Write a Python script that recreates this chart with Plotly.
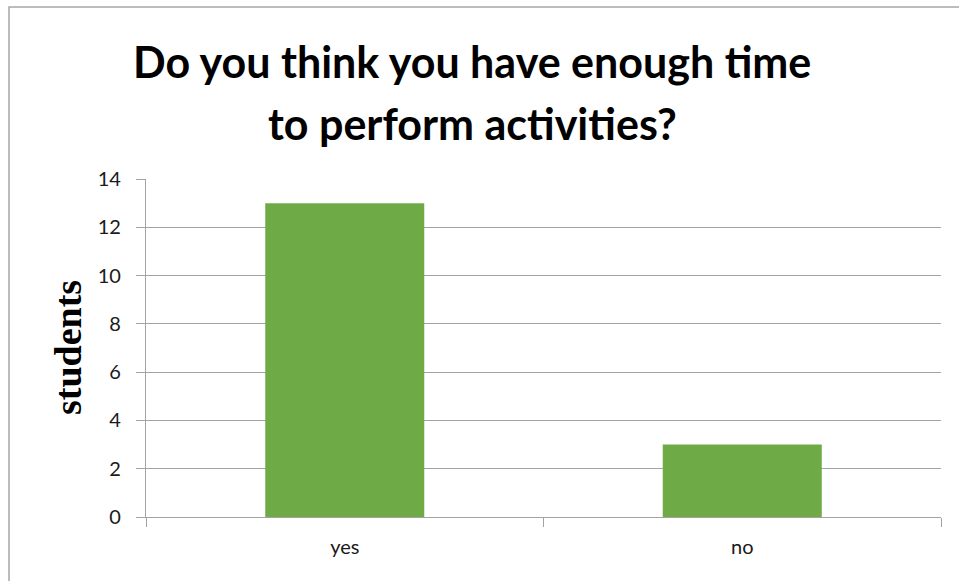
import plotly.graph_objects as go

categories = ["yes", "no"]
students = [13, 3]
y_ticks = [0, 2, 4, 6, 8, 10, 12, 14]
title_lines = ["Do you think you have enough time", "to perform activities?"]

W, H = 959, 581
L, R, T, B = 146, 18, 179, 64
pw, ph = W - L - R, H - T - B

grid = "#a3a3a3"
txt = "#1a1a1a"

fig = go.Figure()
fig.add_trace(go.Bar(
    x=categories, y=students,
    marker=dict(color="#6eaa45", line=dict(width=0)),
    width=0.4,
))

annotations = []
for line, yc in zip(title_lines, [62, 124]):
    annotations.append(dict(
        text="<b>" + line + "</b>",
        x=(472 - L) / pw, y=1 + (T - yc) / ph, xref="paper", yref="paper",
        xanchor="center", yanchor="middle", showarrow=False,
        font=dict(family="Lato, sans-serif", size=43, color="#000000"),
    ))
annotations.append(dict(
    text="<b>students</b>", textangle=-90,
    x=(68 - L) / pw, y=0.5, xref="paper", yref="paper",
    xanchor="center", yanchor="middle", showarrow=False,
    font=dict(family="Liberation Serif, serif", size=38, color="#000000"),
))

fig.update_layout(
    width=W, height=H,
    margin=dict(l=L, r=R, t=T, b=B, pad=0),
    paper_bgcolor="white", plot_bgcolor="white",
    showlegend=False,
    xaxis=dict(
        type="category",
        showline=True, linecolor=grid, linewidth=1.3,
        ticks="outside", tickson="boundaries", ticklen=9, tickcolor=grid, tickwidth=1.3,
        showgrid=False,
        tickfont=dict(family="Lato, sans-serif", size=20, color=txt),
        ticklabelstandoff=12,
    ),
    yaxis=dict(
        range=[0, 14], tickvals=y_ticks,
        showline=True, linecolor=grid, linewidth=1.3,
        ticks="outside", ticklen=9, tickcolor=grid, tickwidth=1.3,
        showgrid=True, gridcolor=grid, gridwidth=1.3,
        zeroline=False,
        tickfont=dict(family="Lato, sans-serif", size=20, color=txt),
        ticklabelstandoff=11,
    ),
    shapes=[dict(
        type="rect", xref="paper", yref="paper",
        x0=(9 - L) / pw, x1=(W + 20 - L) / pw,
        y0=-(B + 20) / ph, y1=1 + (T - 7) / ph,
        line=dict(color="#a6a6a6", width=1.5), layer="below",
    )],
    annotations=annotations,
)

fig.write_html("out.html")
